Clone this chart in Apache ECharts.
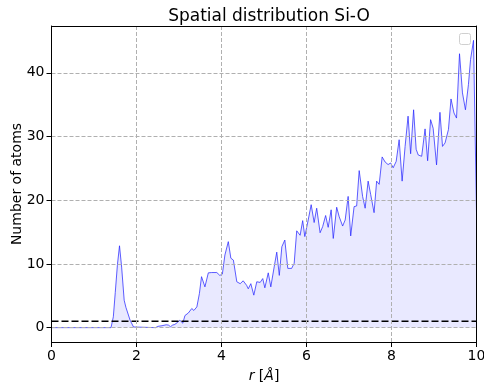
<!DOCTYPE html>
<html>
<head>
<meta charset="utf-8">
<script src="https://cdn.jsdelivr.net/npm/echarts@6/dist/echarts.min.js"></script>
<style>
  html, body { margin: 0; padding: 0; background: #fff; }
  #chart { width: 484px; height: 387px; }
</style>
</head>
<body>
<div id="chart"></div>
<script>
// Radial distance (Å) and number of O atoms found around Si at that distance
const rValues = [
  0, 1.40, 1.455, 1.50, 1.55, 1.60, 1.65, 1.71, 1.75, 1.85, 1.93, 1.97,
  2.45, 2.50, 2.60, 2.70, 2.75, 2.80, 2.85, 2.90, 2.96, 3.02, 3.09, 3.14,
  3.22, 3.30, 3.35, 3.42, 3.48, 3.53, 3.61, 3.69, 3.77, 3.81, 3.89, 3.96,
  4.02, 4.08, 4.16, 4.22, 4.28, 4.36, 4.44, 4.51, 4.59, 4.63, 4.69, 4.76,
  4.83, 4.91, 4.97, 5.02, 5.10, 5.16, 5.24, 5.30, 5.36, 5.42, 5.49, 5.56,
  5.65, 5.71, 5.77, 5.85, 5.91, 5.96, 6.04, 6.11, 6.18, 6.24, 6.32, 6.38,
  6.45, 6.51, 6.58, 6.63, 6.71, 6.77, 6.85, 6.91, 6.98, 7.04, 7.12, 7.18,
  7.24, 7.32, 7.38, 7.45, 7.51, 7.59, 7.65, 7.71, 7.78, 7.85, 7.92, 7.98,
  8.04, 8.11, 8.18, 8.25, 8.32, 8.39, 8.45, 8.52, 8.58, 8.63, 8.71, 8.79,
  8.85, 8.92, 8.98, 9.06, 9.14, 9.20, 9.26, 9.34, 9.40, 9.47, 9.53, 9.60,
  9.67, 9.74, 9.81, 9.86, 9.93, 10.0
];
const atomCounts = [
  0, 0, 1.7, 5.5, 9.8, 12.85, 9.5, 4.3, 3.2, 1.15, 0.1, 0,
  0, 0.2, 0.3, 0.45, 0.4, 0.15, 0.4, 0.5, 0.8, 1.15, 0.7, 1.9,
  2.3, 3.0, 2.7, 3.25, 5.35, 8.0, 6.4, 8.6, 8.65, 8.9, 8.65, 8.2,
  8.4, 11.4, 13.5, 10.9, 10.6, 7.2, 6.9, 7.35, 6.65, 6.1, 6.9, 5.1,
  7.2, 7.1, 7.7, 6.25, 8.6, 6.4, 9.55, 11.85, 8.2, 12.7, 13.75, 9.3,
  9.3, 10.1, 15.2, 14.5, 16.8, 14.3, 16.9, 19.3, 16.5, 18.75, 14.9, 15.85,
  17.6, 15.75, 18.5, 14.0, 18.9, 17.4, 15.95, 16.9, 20.6, 14.4, 19.0, 19.1,
  24.65, 20.6, 18.75, 23.0, 20.9, 18.05, 23.0, 22.5, 26.8, 26.0, 25.6, 25.85,
  25.1, 26.1, 29.5, 23.0, 28.45, 33.2, 27.3, 34.2, 28.0, 27.1, 26.9, 31.2,
  26.2, 32.65, 31.3, 25.55, 33.8, 28.45, 29.0, 31.1, 35.9, 33.7, 32.9, 43.0,
  36.85, 34.2, 38.15, 42.1, 45.1, 18.05
];
// Horizontal reference level
const referenceLevel = 1;
const xTicks = [0, 2, 4, 6, 8, 10];
const yTicks = [0, 10, 20, 30, 40];

const FONT = 'DejaVu Sans';
const curve = rValues.map((r, i) => [r, atomCounts[i]]);

const chart = echarts.init(document.getElementById('chart'), null, { renderer: 'canvas' });

const gridLine = { show: true, lineStyle: { color: '#b0b0b0', width: 1, type: [4, 2] } };
const tickStyle = { show: true, inside: false, length: 5, lineStyle: { color: '#000', width: 1 } };
const frameLine = { show: true, onZero: false, lineStyle: { color: '#000', width: 1 } };

chart.setOption({
  animation: false,
  backgroundColor: '#fff',
  title: {
    text: 'Spatial distribution Si-O',
    left: 264, top: 3, textAlign: 'center',
    textStyle: { fontFamily: FONT, fontSize: 17, fontWeight: 'normal', color: '#000' }
  },
  grid: {
    left: 51.5, top: 26, width: 425, height: 316,
    containLabel: false, outerBoundsMode: 'none'
  },
  xAxis: [{
    type: 'value', min: 0, max: 10, interval: 2,
    name: '{i|r} [{i|Å}]',
    nameLocation: 'middle', nameGap: 27, nameMoveOverlap: false,
    nameTextStyle: {
      fontFamily: FONT, fontSize: 14, color: '#000',
      rich: { i: { fontFamily: FONT, fontSize: 14, fontStyle: 'italic', color: '#000' } }
    },
    axisLine: frameLine,
    axisTick: tickStyle,
    axisLabel: { fontFamily: FONT, fontSize: 14, color: '#000', margin: 7,
      formatter: v => xTicks.includes(v) ? String(v) : '' },
    splitLine: gridLine,
    z: 5
  }, {
    type: 'value', position: 'top', min: 0, max: 10,
    axisLine: frameLine,
    axisTick: { show: false }, axisLabel: { show: false }, splitLine: { show: false },
    z: 5
  }],
  yAxis: [{
    type: 'value', min: -2.255, max: 47.355,
    name: 'Number of atoms',
    nameLocation: 'middle', nameGap: 27, nameMoveOverlap: false,
    nameTextStyle: { fontFamily: FONT, fontSize: 14, color: '#000' },
    axisLine: frameLine,
    axisTick: { ...tickStyle, customValues: yTicks },
    axisLabel: { fontFamily: FONT, fontSize: 14, color: '#000', margin: 7, customValues: yTicks },
    splitLine: { show: false },
    z: 5
  }, {
    type: 'value', position: 'right', min: -2.255, max: 47.355,
    axisLine: frameLine,
    axisTick: { show: false }, axisLabel: { show: false }, splitLine: { show: false },
    z: 5
  }],
  series: [{
    type: 'line',
    data: curve,
    symbol: 'none',
    lineStyle: { color: 'rgba(40,40,255,0.75)', width: 1 },
    areaStyle: { color: 'rgba(0,0,255,0.12)', origin: 0 },
    z: 2
  }, {
    // horizontal grid lines at the y ticks
    type: 'line',
    data: [],
    markLine: {
      silent: true, symbol: 'none', label: { show: false },
      lineStyle: { color: '#b0b0b0', width: 1, type: [4, 2] },
      data: yTicks.map(v => ({ yAxis: v }))
    },
    z: 1
  }, {
    type: 'line',
    data: [[0, referenceLevel], [10, referenceLevel]],
    symbol: 'none',
    lineStyle: { color: '#000', width: 1.7, type: [7, 3] },
    z: 3
  }],
  graphic: [{
    // empty legend frame
    type: 'rect',
    shape: { x: 459.5, y: 33.5, width: 11, height: 11, r: 2 },
    style: { fill: 'rgba(255,255,255,0.8)', stroke: '#d0d0d0', lineWidth: 1 },
    z: 10
  }]
});
</script>
</body>
</html>
